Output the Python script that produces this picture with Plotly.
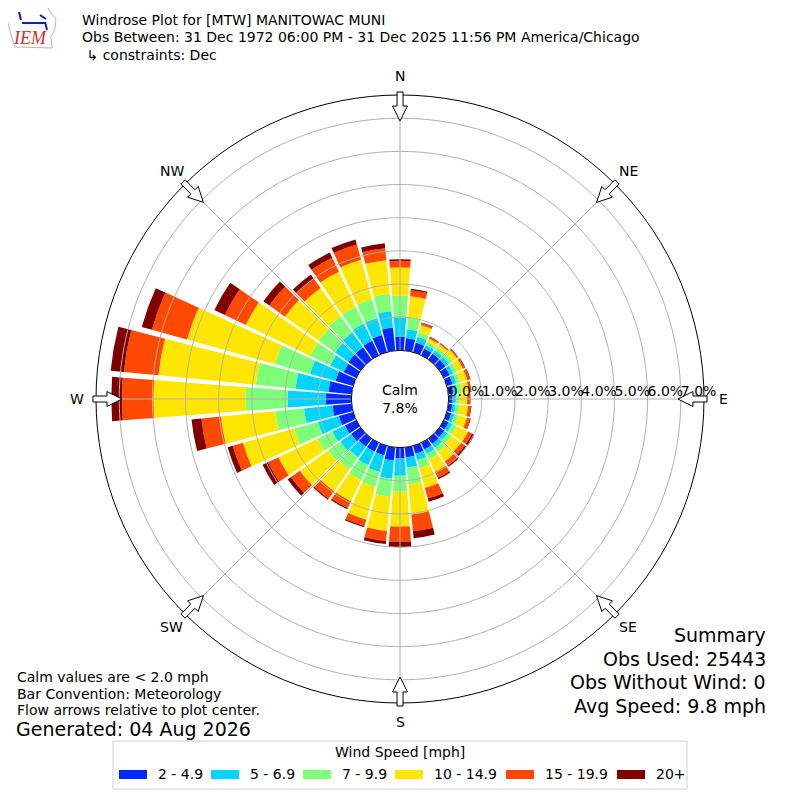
import math
import numpy as np
import plotly.graph_objects as go

# wind directions (deg, meteorological) and speed bins
directions = list(range(0, 360, 10))
speed_bins = ["2 - 4.9", "5 - 6.9", "7 - 9.9", "10 - 14.9", "15 - 19.9", "20+"]
bin_colors = ["#0028ff", "#00d4ff", "#7dff7a", "#ffe600", "#ff4800", "#800000"]

# frequency (%) per direction for each speed bin (stacked)
pct_2_5 = [0.42, 0.38, 0.30, 0.22, 0.22, 0.22, 0.20, 0.18, 0.15, 0.12, 0.12, 0.14,
           0.16, 0.18, 0.20, 0.22, 0.25, 0.30, 0.33, 0.40, 0.30, 0.30, 0.30, 0.35,
           0.38, 0.45, 0.58, 0.77, 0.70, 0.55, 0.42, 0.45, 0.45, 0.48, 0.54, 0.70]
pct_5_7 = [0.58, 0.27, 0.18, 0.12, 0.12, 0.13, 0.12, 0.12, 0.12, 0.10, 0.10, 0.10,
           0.12, 0.12, 0.14, 0.15, 0.20, 0.31, 0.52, 0.55, 0.52, 0.45, 0.40, 0.40,
           0.42, 0.65, 0.86, 1.15, 1.00, 0.80, 0.45, 0.50, 0.55, 0.58, 0.53, 0.50]
pct_7_10 = [0.65, 0.35, 0.15, 0.10, 0.10, 0.12, 0.12, 0.12, 0.13, 0.12, 0.12, 0.12,
            0.15, 0.15, 0.15, 0.18, 0.25, 0.51, 0.48, 0.55, 0.47, 0.50, 0.45, 0.45,
            0.50, 0.75, 0.87, 1.27, 1.20, 1.10, 0.67, 0.60, 0.60, 0.57, 0.59, 0.52]
pct_10_15 = [0.85, 0.65, 0.22, 0.12, 0.13, 0.17, 0.20, 0.22, 0.22, 0.22, 0.26, 0.27,
             0.38, 0.35, 0.36, 0.42, 0.62, 0.91, 1.05, 1.03, 1.02, 0.70, 0.80, 1.05,
             1.30, 1.60, 1.65, 2.78, 2.95, 2.75, 2.15, 1.25, 1.05, 1.16, 1.23, 1.02]
pct_15_20 = [0.20, 0.18, 0.06, 0.05, 0.04, 0.05, 0.06, 0.08, 0.07, 0.08, 0.08, 0.10,
             0.13, 0.14, 0.15, 0.20, 0.33, 0.51, 0.46, 0.31, 0.20, 0.23, 0.28, 0.33,
             0.35, 0.32, 0.59, 0.95, 1.05, 1.10, 0.70, 0.58, 0.35, 0.47, 0.48, 0.36]
pct_20_up = [0.05, 0.04, 0.02, 0.01, 0.01, 0.01, 0.02, 0.02, 0.01, 0.02, 0.02, 0.02,
             0.08, 0.06, 0.05, 0.05, 0.10, 0.21, 0.16, 0.09, 0.04, 0.04, 0.04, 0.12,
             0.18, 0.16, 0.30, 0.32, 0.40, 0.32, 0.35, 0.22, 0.15, 0.17, 0.16, 0.15]

radial_ticks = [0, 1, 2, 3, 4, 5, 6, 7]
compass_vals = [0, 45, 90, 135, 180, 225, 270, 315]
compass_text = ["N", "NE", "E", "SE", "S", "SW", "W", "NW"]

calm_pct = 7.8
titles = ["Windrose Plot for [MTW] MANITOWAC MUNI",
          "Obs Between: 31 Dec 1972 06:00 PM - 31 Dec 2025 11:56 PM America/Chicago",
          " ↳ constraints: Dec"]
summary = ["Summary", "Obs Used: 25443", "Obs Without Wind: 0", "Avg Speed: 9.8 mph"]
notes = ["Calm values are < 2.0 mph", "Bar Convention: Meteorology",
         "Flow arrows relative to plot center."]
generated = "Generated: 04 Aug 2026"

RMAX = 7.7
FONT = "DejaVu Sans"
GRID = "#b0b0b0"
OFF = 8  # page body margin in the browser


def px(x, y):
    # screen pixel -> paper coords
    return (x - OFF) / 800, 1 - (y - OFF) / 800


def note(x, y, text, size, anchor="left", **kw):
    xp, yp = px(x, y)
    return dict(x=xp, y=yp, xref="paper", yref="paper", text=text, showarrow=False,
                xanchor=anchor, yanchor="middle",
                font=dict(family=kw.get("family", FONT), size=size, color=kw.get("color", "black")))


fig = go.Figure()

series = [pct_2_5, pct_5_7, pct_7_10, pct_10_15, pct_15_20, pct_20_up]
for name, vals, col in zip(speed_bins, series, bin_colors):
    fig.add_trace(go.Barpolar(
        r=vals, theta=directions, width=8.8, name=name,
        marker=dict(color=col, line=dict(width=0)),
        showlegend=False, hoverinfo="skip",
    ))

# grid drawn above the bars
circ = np.arange(0, 361, 1)
for k in radial_ticks[1:]:
    fig.add_trace(go.Scatterpolar(r=[k] * len(circ), theta=circ, mode="lines",
                                  line=dict(color=GRID, width=1),
                                  showlegend=False, hoverinfo="skip"))
for d in compass_vals:
    fig.add_trace(go.Scatterpolar(r=[0, RMAX], theta=[d, d], mode="lines",
                                  line=dict(color=GRID, width=1),
                                  showlegend=False, hoverinfo="skip"))

fig.add_trace(go.Scatterpolar(
    r=radial_ticks, theta=[90] * len(radial_ticks), mode="text",
    text=["%.1f%%" % v for v in radial_ticks], textposition="top right",
    textfont=dict(family=FONT, size=14, color="black"),
    showlegend=False, hoverinfo="skip",
))

shapes = []
annotations = []

# flow arrows on the outer circle + compass labels
cx, cy = 400, 399
for d, lab in zip(compass_vals, compass_text):
    s, c = math.sin(math.radians(d)), math.cos(math.radians(d))
    pts = [(278, 0), (293, -7.5), (293, -3), (307, -3), (307, 3), (293, 3), (293, 7.5)]
    xy = [px(cx + r * s + w * c, cy - r * c + w * s) for r, w in pts]
    path = "M " + " L ".join("%.4f,%.4f" % p for p in xy) + " Z"
    shapes.append(dict(type="path", path=path, xref="paper", yref="paper",
                       fillcolor="white", line=dict(color="black", width=1)))
    annotations.append(note(cx + 323 * s, cy - 323 * c, lab, 14, anchor="center"))

annotations.append(note(cx, cy, "Calm<br>%.1f%%" % calm_pct, 14, anchor="center"))

for i, t in enumerate(titles):
    annotations.append(note(80, 20 + 17.5 * i, t, 14))

# IEM logo stand-in
logo = [(6, 6), (47, 6), (50, 12), (56, 19), (55, 29), (51, 37), (52, 48), (15, 47),
        (12, 38), (8, 24)]
shapes.append(dict(type="path", xref="paper", yref="paper",
                   path="M " + " L ".join("%.4f,%.4f" % px(x, y) for x, y in logo) + " Z",
                   fillcolor="white", line=dict(color="#e8a0a0", width=1)))
for (x0, y0, x1, y1) in [(22, 23, 46, 23), (40, 15, 46, 19), (45, 22, 47, 30), (19, 12, 21, 20)]:
    a, b = px(x0, y0)
    e, f = px(x1, y1)
    shapes.append(dict(type="line", xref="paper", yref="paper", x0=a, y0=b, x1=e, y1=f,
                       line=dict(color="#1020c0", width=2)))
annotations.append(note(30, 38, "<i>IEM</i>", 18, anchor="center",
                        family="Liberation Serif", color="#d03030"))

for i, t in enumerate(notes):
    annotations.append(note(15, 677 + 16.5 * i, t, 14))
annotations.append(note(14, 729, generated, 19))

for i, t in enumerate(summary):
    annotations.append(note(768, 635 + 23.5 * i, t, 19, anchor="right"))

# legend box
bx0, by0 = px(113, 741)
bx1, by1 = px(687, 789)
shapes.append(dict(type="rect", xref="paper", yref="paper", x0=bx0, x1=bx1, y0=by1, y1=by0,
                   fillcolor="white", line=dict(color="#d0d0d0", width=1)))
annotations.append(note(400, 752, "Wind Speed [mph]", 14, anchor="center"))
swatch_x = [119, 211, 303, 395, 506, 617]
for x0, name, col in zip(swatch_x, speed_bins, bin_colors):
    a, b = px(x0, 770)
    e, f = px(x0 + 28, 779)
    shapes.append(dict(type="rect", xref="paper", yref="paper", x0=a, x1=e, y0=f, y1=b,
                       fillcolor=col, line=dict(width=0)))
    annotations.append(note(x0 + 37, 774, name, 14))

dx0, dy_top = px(96, 95)
dx1, dy_bot = px(704, 703)
fig.update_layout(
    width=800, height=800,
    margin=dict(l=0, r=0, t=0, b=0),
    paper_bgcolor="white",
    showlegend=False,
    polar=dict(
        domain=dict(x=[dx0, dx1], y=[dy_bot, dy_top]),
        hole=0.16,
        bgcolor="white",
        radialaxis=dict(range=[0, RMAX], showgrid=False, showline=False,
                        showticklabels=False, ticks=""),
        angularaxis=dict(direction="clockwise", rotation=90, showgrid=False,
                         showticklabels=False, ticks="",
                         showline=True, linecolor="black", linewidth=1),
    ),
    shapes=shapes,
    annotations=annotations,
)

fig.write_html("out.html")
